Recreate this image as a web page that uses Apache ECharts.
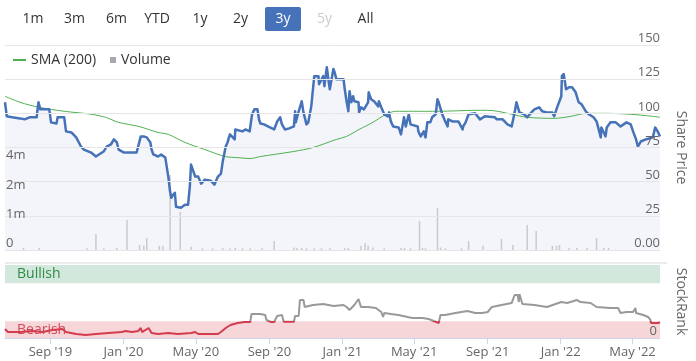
<!DOCTYPE html>
<html><head><meta charset="utf-8">
<script src="https://cdn.jsdelivr.net/npm/echarts@6/dist/echarts.min.js"></script>
<style>html,body{margin:0;padding:0;background:#fff}#c{width:696px;height:361px}</style>
</head><body><div id="c"></div>
<script>
// ---------- DATA ----------
const rangeButtons = ['1m','3m','6m','YTD','1y','2y','3y','5y','All'];
const axisStart = '2019-06-17', axisEnd = '2022-06-16';
const tickDates = ['2019-09-01','2020-01-01','2020-05-01','2020-09-01','2021-01-01','2021-05-01','2021-09-01','2022-01-01','2022-05-01'];
const tickLabels = ["Sep '19","Jan '20","May '20","Sep '20","Jan '21","May '21","Sep '21","Jan '22","May '22"];
const volumeTickLabels = ['0','1m','2m','4m'];

const priceDates = ['2019-06-17','2019-06-20','2019-06-29','2019-07-12','2019-07-20','2019-07-28','2019-08-09','2019-08-10','2019-08-12','2019-08-15',
'2019-08-30','2019-09-02','2019-09-11','2019-09-13','2019-09-24','2019-09-27','2019-10-06','2019-10-14','2019-10-22','2019-10-27',
'2019-11-08','2019-11-16','2019-11-21','2019-11-29','2019-12-04','2019-12-11','2019-12-16','2019-12-21','2019-12-24','2020-01-02',
'2020-01-05','2020-01-23','2020-01-30','2020-02-04','2020-02-09','2020-02-15','2020-02-17','2020-02-20','2020-02-28','2020-03-04',
'2020-03-11','2020-03-16','2020-03-19','2020-03-21','2020-03-24','2020-03-27','2020-03-29','2020-04-01','2020-04-06','2020-04-13',
'2020-04-18','2020-04-21','2020-04-23','2020-04-26','2020-04-30','2020-05-05','2020-05-10','2020-05-16','2020-05-26','2020-06-01',
'2020-06-07','2020-06-12','2020-06-15','2020-06-20','2020-06-23','2020-06-27','2020-06-28','2020-07-05','2020-07-06','2020-07-18',
'2020-07-23','2020-07-30','2020-08-03','2020-08-07','2020-08-12','2020-08-15','2020-08-17','2020-08-23','2020-09-02','2020-09-09',
'2020-09-14','2020-09-19','2020-09-22','2020-09-27','2020-10-04','2020-10-12','2020-10-14','2020-10-15','2020-10-20','2020-10-25',
'2020-10-28','2020-11-02','2020-11-05','2020-11-10','2020-11-15','2020-11-22','2020-11-23','2020-11-30','2020-12-02','2020-12-06',
'2020-12-09','2020-12-11','2020-12-17','2020-12-19','2020-12-22','2021-01-03','2021-01-05','2021-01-08','2021-01-11','2021-01-13',
'2021-01-16','2021-01-19','2021-01-21','2021-01-28','2021-01-29','2021-02-01','2021-02-06','2021-02-13','2021-02-14','2021-02-18',
'2021-02-23','2021-03-02','2021-03-03','2021-03-07','2021-03-12','2021-03-18','2021-03-20','2021-03-23','2021-03-27','2021-04-05',
'2021-04-09','2021-04-14','2021-04-17','2021-04-22','2021-04-25','2021-05-07','2021-05-08','2021-05-12','2021-05-17','2021-05-20',
'2021-05-23','2021-05-28','2021-05-31','2021-06-06','2021-06-09','2021-06-11','2021-06-17','2021-06-22','2021-06-26','2021-06-27',
'2021-07-04','2021-07-14','2021-07-21','2021-07-22','2021-07-26','2021-07-31','2021-08-11','2021-08-19','2021-08-27','2021-09-13',
'2021-09-16','2021-09-26','2021-10-04','2021-10-11','2021-10-16','2021-10-19','2021-10-24','2021-11-01','2021-11-06','2021-11-13',
'2021-11-18','2021-11-26','2021-12-01','2021-12-09','2021-12-18','2021-12-21','2021-12-26','2022-01-02','2022-01-03','2022-01-06',
'2022-01-10','2022-01-15','2022-01-20','2022-01-26','2022-01-31','2022-02-05','2022-02-12','2022-02-17','2022-02-20','2022-02-25',
'2022-03-02','2022-03-09','2022-03-10','2022-03-17','2022-03-19','2022-03-25','2022-04-03','2022-04-11','2022-04-21','2022-04-28',
'2022-05-02','2022-05-07','2022-05-10','2022-05-15','2022-05-23','2022-06-04','2022-06-08','2022-06-13','2022-06-16'];
const priceValues = [108.1,97.8,97.1,96.3,95.6,97.1,97.1,101.5,108.1,102.9,
102.9,93.4,92.6,97.1,97.1,86.8,86.0,82.4,75.7,73.5,
71.3,68.4,69.9,72.1,75.7,77.2,80.9,78.7,73.5,71.3,
69.9,71.3,83.1,83.1,82.4,78.7,73.5,69.9,68.4,69.9,
67.6,53.7,42.6,38.2,40.4,41.9,31.6,30.9,30.9,33.1,
33.1,46.3,62.5,61.8,53.7,53.7,48.5,51.5,50.7,47.8,
53.7,55.9,64.7,75.7,78.7,84.6,86.0,80.9,88.2,86.8,
88.2,86.8,99.3,102.9,102.9,94.9,92.6,91.9,89.7,88.2,
94.1,97.1,91.9,88.2,89.0,90.4,101.5,93.4,101.5,108.8,
100.7,91.9,93.4,105.1,127.2,127.2,121.3,127.2,119.9,133.8,
123.5,117.6,132.4,130.1,125.0,125.0,117.6,108.8,101.5,116.2,
108.1,112.5,108.8,108.1,100.7,104.4,102.9,108.1,115.4,110.3,
108.8,105.1,108.8,104.4,99.3,97.8,100.7,94.1,90.4,89.7,
84.6,97.1,90.4,99.3,91.9,90.4,86.8,83.1,86.8,82.4,
93.4,93.4,97.1,99.3,110.3,108.1,99.3,94.1,90.4,95.6,
94.1,94.1,88.2,90.4,93.4,99.3,100.0,95.6,97.8,97.1,
95.6,95.6,91.9,90.4,100.7,108.1,100.7,99.3,97.1,100.7,
102.9,104.4,101.5,100.7,100.7,97.8,104.4,112.5,127.2,128.7,
117.6,119.1,119.1,115.4,108.1,106.6,101.5,99.3,100.7,97.1,
94.1,82.4,89.7,83.1,89.7,93.4,93.4,90.4,93.4,91.9,
86.8,80.9,75.7,79.4,80.9,82.4,89.7,86.0,83.1];

const smaDates = ['2019-06-17','2019-07-12','2019-08-13','2019-09-24','2019-11-09','2019-12-02','2019-12-24','2020-01-27','2020-02-12','2020-02-28',
'2020-03-16','2020-04-13','2020-05-16','2020-06-19','2020-07-10','2020-07-31','2020-08-17','2020-10-12','2020-11-13','2020-12-22',
'2021-01-08','2021-01-29','2021-02-21','2021-03-15','2021-03-31','2021-04-28','2021-06-11','2021-08-11','2021-09-01','2021-09-18',
'2021-10-11','2021-11-06','2021-12-21','2022-01-18','2022-02-13','2022-03-19','2022-04-28','2022-06-04','2022-06-16'];
const smaValues = [112.5,108.1,104.4,101.5,99.3,97.1,93.4,90.4,88.2,86.0,
84.6,78.7,73.5,68.4,67.6,66.9,68.4,72.1,75.0,80.9,
83.1,88.2,93.4,99.3,101.5,101.5,101.5,102.2,102.2,101.5,
99.3,97.1,96.3,97.8,100.0,100.0,99.3,97.8,97.1];

// volume, millions
const volumeDates = ['2019-07-18','2019-08-13','2019-11-01','2019-11-16','2019-11-29','2019-12-21','2020-01-07','2020-01-28','2020-02-04','2020-02-09',
'2020-03-01','2020-03-07','2020-03-19','2020-04-05','2020-04-23','2020-05-12','2020-05-29','2020-06-15','2020-06-27','2020-07-06',
'2020-07-18','2020-07-31','2020-08-20','2020-09-09','2020-10-12','2020-10-17','2020-10-25','2020-11-02','2020-11-15','2020-11-27',
'2020-12-11','2021-01-05','2021-01-11','2021-02-01','2021-02-08','2021-02-13','2021-02-21','2021-03-12','2021-04-09','2021-04-15',
'2021-04-25','2021-05-10','2021-05-15','2021-05-20','2021-06-09','2021-06-14','2021-06-22','2021-07-19','2021-07-31','2021-08-24',
'2021-09-24','2021-10-13','2021-11-06','2021-11-21','2021-12-18','2021-12-25','2021-12-30','2022-01-15','2022-01-28','2022-02-14',
'2022-03-02','2022-03-14','2022-03-22'];
const volumeValues = [0.1,0.1,0.08,0.76,0.08,0.1,1.43,0.24,0.2,0.57,
0.2,0.2,3.58,1.82,0.15,0.08,0.08,0.1,0.08,0.1,
0.08,0.08,0.08,0.43,0.12,0.1,0.1,0.08,0.08,0.08,
0.08,0.08,0.1,0.2,0.33,0.2,0.12,0.08,0.1,0.1,
0.08,1.39,0.1,0.08,2.0,0.12,0.08,0.08,0.43,0.2,
0.53,0.24,1.2,0.91,0.2,0.2,0.24,0.1,0.1,0.1,
0.57,0.1,0.1];

const rankDates = ['2019-06-17','2019-06-22','2019-07-12','2019-08-02','2019-08-19','2019-09-04','2019-09-21','2019-09-27','2019-10-14','2019-10-30',
'2019-11-16','2019-12-07','2019-12-29','2020-01-05','2020-01-15','2020-01-26','2020-01-30','2020-02-01','2020-02-07','2020-02-12',
'2020-02-17','2020-02-28','2020-03-16','2020-04-01','2020-04-23','2020-04-30','2020-05-05','2020-05-21','2020-06-07','2020-06-12',
'2020-06-20','2020-06-28','2020-07-10','2020-07-22','2020-07-31','2020-08-02','2020-08-17','2020-08-25','2020-08-27','2020-09-04',
'2020-09-09','2020-09-14','2020-09-22','2020-09-25','2020-10-12','2020-10-14','2020-10-20','2020-10-22','2020-10-28','2020-10-30',
'2020-11-13','2020-11-30','2020-12-17','2021-01-03','2021-01-08','2021-01-13','2021-01-21','2021-01-28','2021-02-01','2021-02-13',
'2021-02-26','2021-03-07','2021-03-10','2021-03-12','2021-03-23','2021-04-05','2021-04-20','2021-04-28','2021-05-15','2021-05-25',
'2021-06-06','2021-06-11','2021-06-14','2021-06-22','2021-07-09','2021-07-29','2021-08-11','2021-08-23','2021-09-01','2021-09-08',
'2021-09-24','2021-10-11','2021-10-16','2021-10-21','2021-10-23','2021-10-24','2021-10-29','2021-11-18','2021-12-09','2022-01-02',
'2022-01-12','2022-01-28','2022-02-03','2022-02-20','2022-03-02','2022-03-25','2022-04-07','2022-04-11','2022-04-21','2022-05-02',
'2022-05-06','2022-05-07','2022-05-19','2022-05-27','2022-05-31','2022-06-01','2022-06-13','2022-06-16'];
const rankValues = [12.3,8.2,8.2,9.6,8.2,11.0,12.3,8.2,5.5,4.1,
5.5,6.8,8.2,9.6,8.2,9.6,13.7,8.2,11.0,13.7,
6.8,5.5,6.8,5.5,6.8,8.2,5.5,5.5,5.5,8.2,
13.7,17.8,20.5,21.9,21.9,32.9,32.9,31.5,24.7,21.9,
21.9,30.1,31.5,22.3,22.3,30.1,30.1,52.1,52.1,42.5,
45.2,46.6,43.8,45.2,42.5,38.4,45.2,53.4,42.5,42.5,
41.1,35.6,28.8,34.2,32.9,31.5,28.8,27.4,27.4,26.0,
22.3,20.5,31.5,31.5,34.2,37.0,34.2,34.2,35.6,42.5,
45.2,47.9,58.9,58.9,49.3,60.3,46.6,45.2,42.5,49.3,
47.9,52.1,49.3,47.9,42.5,41.1,41.1,34.2,35.6,35.6,
41.1,34.2,31.5,28.8,24.7,20.5,20.5,21.9];
const bearishMax = 23, bullishMin = 75;

// ---------- BUILD ----------
const ts = s => echarts.number.parseDate(s).getTime();
function zip(a, b, name) {
  if (a.length !== b.length) throw new Error(name + ' length mismatch ' + a.length + ' vs ' + b.length);
  return a.map((d, i) => [ts(d), b[i]]);
}
const priceData = zip(priceDates, priceValues, 'price');
const smaData = zip(smaDates, smaValues, 'sma');
const volumeData = zip(volumeDates, volumeValues, 'volume');
const rankData = zip(rankDates, rankValues, 'rank');
const tickTs = tickDates.map(ts);

const FONT = '"Open Sans", "Noto Sans", sans-serif';
const GREY = '#666666';
const BLUE = '#4572b8';

const chart = echarts.init(document.getElementById('c'), null, {renderer: 'canvas'});

// range buttons (UI chrome)
const btnX = [33, 74.5, 116.5, 157, 200, 240.5, 283, 324.5, 365.5];
const graphic = [
  {type: 'rect', shape: {x: 265, y: 7, width: 36, height: 24, r: 2}, style: {fill: BLUE}, silent: true},
  {type: 'line', shape: {x1: 5, y1: 263, x2: 667, y2: 263}, style: {stroke: '#ececec', lineWidth: 2}, silent: true}
];
rangeButtons.forEach((t, i) => {
  graphic.push({type: 'text', x: btnX[i], y: 19, silent: true,
    style: {text: t, align: 'center', verticalAlign: 'middle', fontSize: 14, fontFamily: FONT,
      fill: t === '3y' ? '#ffffff' : (t === '5y' ? '#cccccc' : '#333333')}});
});

const xCommon = {type: 'value', min: ts(axisStart), max: ts(axisEnd), scale: true};

const option = {
  animation: false,
  textStyle: {fontFamily: FONT},
  graphic: graphic,
  legend: [
    {data: [{name: 'SMA (200)'}], left: 13, top: 53, padding: 0, icon: 'rect', itemWidth: 13, itemHeight: 2,
      textStyle: {fontSize: 14, color: '#333', fontFamily: FONT}, selectedMode: false},
    {data: [{name: 'Volume', itemStyle: {color: '#a8a8b0'}}], left: 110, top: 53, padding: 0, icon: 'rect', itemWidth: 6, itemHeight: 6,
      textStyle: {fontSize: 14, color: '#333', fontFamily: FONT}, selectedMode: false}
  ],
  grid: [
    {left: 5, right: 29, top: 45, height: 205},
    {left: 5, right: 29, top: 265, height: 73}
  ],
  xAxis: [
    Object.assign({}, xCommon, {gridIndex: 0, z: 0,
      axisLine: {show: true, lineStyle: {color: '#e6e6e6'}}, axisTick: {show: false}, axisLabel: {show: false}, splitLine: {show: false}}),
    Object.assign({}, xCommon, {gridIndex: 1, z: 10,
      axisLine: {show: true, lineStyle: {color: '#ccd6eb'}},
      axisTick: {show: true, length: 6, customValues: tickTs, lineStyle: {color: '#ccd6eb'}},
      axisLabel: {show: true, customValues: tickTs, margin: 8, fontSize: 13, color: GREY, fontFamily: FONT,
        formatter: v => { const i = tickTs.indexOf(v); return i >= 0 ? tickLabels[i] : ''; }},
      splitLine: {show: false}})
  ],
  yAxis: [
    {type: 'value', gridIndex: 0, position: 'right', min: 0, max: 150, interval: 25, z: 10,
      name: 'Share Price', nameLocation: 'middle', nameRotate: -90, nameGap: 14,
      nameTextStyle: {fontSize: 14, color: GREY, fontFamily: FONT},
      axisLine: {show: false}, axisTick: {show: false},
      splitLine: {show: true, lineStyle: {color: '#e6e6e6', width: 1}},
      axisLabel: {inside: true, margin: 0, verticalAlign: 'bottom', fontSize: 13, color: GREY, fontFamily: FONT,
        formatter: v => v === 0 ? '0.00' : String(v)}},
    {type: 'value', gridIndex: 0, position: 'left', min: 0, max: 9.8, interval: 1.4, z: 10,
      axisLine: {show: false}, axisTick: {show: false}, splitLine: {show: false},
      axisLabel: {inside: true, margin: 1, verticalAlign: 'bottom', fontSize: 13, color: GREY, fontFamily: FONT,
        formatter: v => { const i = Math.round(v / 1.4); return (Math.abs(v - i * 1.4) < 1e-6 && i < volumeTickLabels.length) ? volumeTickLabels[i] : ''; }}},
    {type: 'value', gridIndex: 1, position: 'right', min: 0, max: 100, interval: 100, z: 10,
      name: 'StockRank', nameLocation: 'middle', nameRotate: -90, nameGap: 14,
      nameTextStyle: {fontSize: 14, color: GREY, fontFamily: FONT},
      axisLine: {show: false}, axisTick: {show: false}, splitLine: {show: false},
      axisLabel: {inside: true, margin: 3, verticalAlign: 'bottom', fontSize: 13, color: GREY, fontFamily: FONT,
        formatter: v => v === 0 ? '0' : ''}}
  ],
  visualMap: [{type: 'piecewise', show: false, seriesIndex: 4, dimension: 1,
    pieces: [{gte: 0, lt: bearishMax, color: '#d33c4e'}, {gte: bearishMax, lte: 100, color: '#999999'}]}],
  series: [
    {name: 'PriceArea', type: 'line', xAxisIndex: 0, yAxisIndex: 0, data: priceData, showSymbol: false, symbol: 'none',
      lineStyle: {width: 0}, areaStyle: {color: '#f3f5fa', opacity: 1}, z: 1, silent: true},
    {name: 'Volume', type: 'bar', xAxisIndex: 0, yAxisIndex: 1, data: volumeData, barWidth: 1.5,
      itemStyle: {color: '#cacaca'}, z: 3, silent: true},
    {name: 'SMA (200)', type: 'line', xAxisIndex: 0, yAxisIndex: 0, data: smaData, showSymbol: false, symbol: 'none',
      smooth: 0.3, lineStyle: {color: '#4fb04f', width: 1}, itemStyle: {color: '#4fb04f'}, z: 4, silent: true},
    {name: 'Price', type: 'line', xAxisIndex: 0, yAxisIndex: 0, data: priceData, showSymbol: false, symbol: 'none',
      lineStyle: {color: BLUE, width: 2.5, join: 'round'}, z: 5, silent: true},
    {name: 'StockRank', type: 'line', xAxisIndex: 1, yAxisIndex: 2, data: rankData, showSymbol: false, symbol: 'none',
      lineStyle: {width: 2}, z: 5, silent: true,
      markArea: {silent: true, data: [
        [{yAxis: bullishMin, name: 'Bullish', itemStyle: {color: '#d3e8dc'},
          label: {show: true, position: 'insideLeft', distance: 12, color: '#2f8a45', fontSize: 14, fontFamily: FONT}}, {yAxis: 100}],
        [{yAxis: 0, name: 'Bearish', itemStyle: {color: '#f6d6d9'},
          label: {show: true, position: 'insideLeft', distance: 12, color: '#d24a58', fontSize: 14, fontFamily: FONT}}, {yAxis: bearishMax}]
      ]}}
  ]
};
chart.setOption(option);
</script>
</body></html>
